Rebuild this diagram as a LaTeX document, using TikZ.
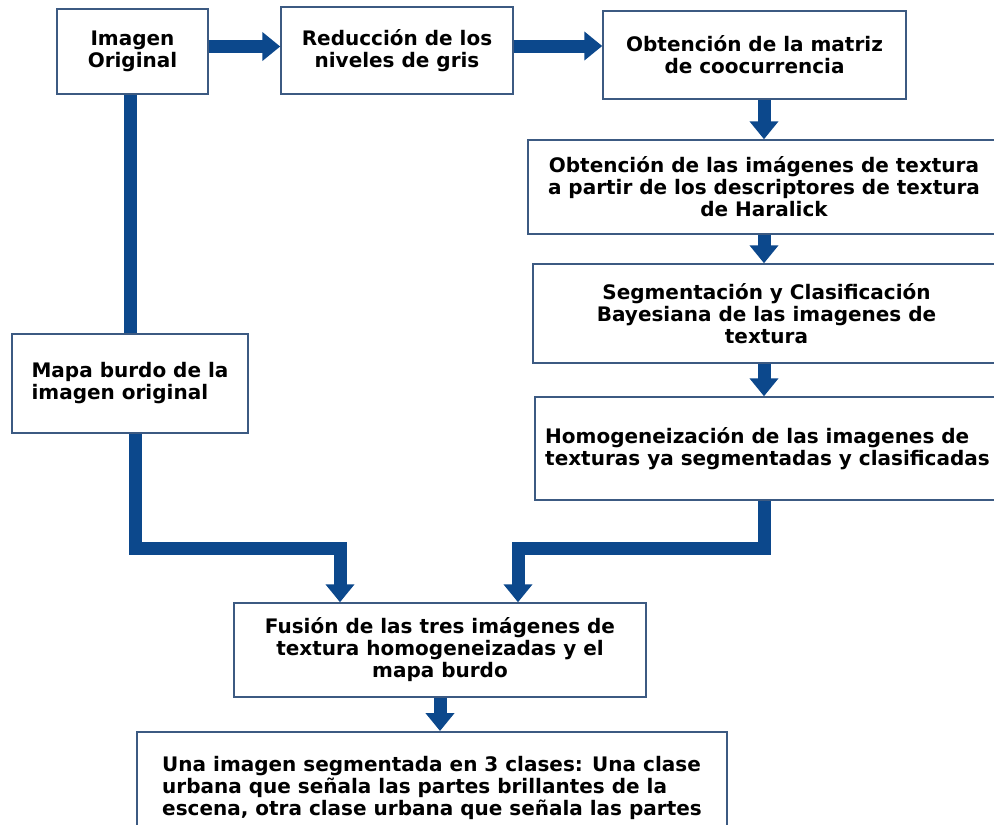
\documentclass[tikz,border=0pt]{standalone}
\usepackage{fontspec}
\setmainfont{DejaVu Sans}
\usetikzlibrary{arrows.meta}

\definecolor{flowblue}{RGB}{12,72,140}
\definecolor{boxline}{RGB}{60,90,130}

\begin{document}
\begin{tikzpicture}[x=1pt, y=-1pt,
    box/.style={draw=boxline, line width=1.5pt, align=center, inner sep=0pt,
        font=\fontsize{20}{22}\selectfont\bfseries},
    flow/.style={->, flowblue, line width=13pt, line join=miter,
        >={Triangle[width=28pt,length=18pt]}},
    bar/.style={flowblue, line width=13pt}]
                \useasboundingbox (0, 0) rectangle (994, 825);
                \fill[white] (0, 0) rectangle (994, 825);
                \clip (0, 0) rectangle (994, 825);

                % --------
                % Top row
                % --------
                \node[box, minimum width=151pt, minimum height=85pt] at (132.5, 51.5) (orig) {Imagen\\Original};
                \node[box, minimum width=232pt, minimum height=87pt] at (397, 50.5) (reduc) {Reducción de los\\niveles de gris};
                \node[box, minimum width=303pt, minimum height=88pt] at (754.5, 55) (matriz) {Obtención de la matriz\\de coocurrencia};

                % --------
                % Right column
                % --------
                \node[box, minimum width=472pt, minimum height=94pt] at (764, 187) (haralick) {Obtención de las imágenes de textura\\a partir de los descriptores de textura\\de Haralick};
                \node[box, minimum width=467pt, minimum height=99pt] at (766.5, 313.5) (bayes) {Segmentación y Clasificación\\Bayesiana de las imagenes de\\textura};
                \node[box, align=left, minimum width=465pt, minimum height=103pt] at (767.5, 448.5) (homog) {Homogeneización de las imagenes de\\texturas ya segmentadas y clasificadas};

                % --------
                % Left column
                % --------
                \node[box, align=left, minimum width=236pt, minimum height=99pt] at (130, 383.5) (mapa) {Mapa burdo de la\\imagen original};

                % --------
                % Bottom
                % --------
                \node[box, minimum width=412pt, minimum height=94pt] at (440, 650) (fusion) {Fusión de las tres imágenes de\\textura homogeneizadas y el\\mapa burdo};
                \node[box, align=left, anchor=north, minimum width=590pt, inner ysep=25pt, text depth=100pt] at (432, 731) (result) {Una imagen segmentada en 3 clases: Una clase\\urbana que señala las partes brillantes de la\\escena, otra clase urbana que señala las partes};

                \coordinate (elbowL) at (340, 548);
                \coordinate (elbowR) at (518, 548);

                % Draw line
                \draw[flow] ([yshift=5pt]orig.east) -- ([yshift=5pt]orig.east -| reduc.west);
                \draw[flow] ([yshift=4.5pt]reduc.east) -- ([yshift=4.5pt]reduc.east -| matriz.west);
                \draw[flow] (haralick.north |- matriz.south) -- (haralick.north);
                \draw[flow] (haralick.south) -- (haralick.south |- bayes.north);
                \draw[flow] (haralick.south |- bayes.south) -- (haralick.south |- homog.north);
                \draw[bar] (mapa.north |- orig.south) -- (mapa.north);
                \draw[flow] ([xshift=5pt]mapa.south) |- (elbowL) -- (elbowL |- fusion.north);
                \draw[flow] (haralick.south |- homog.south) |- (elbowR) -- (elbowR |- fusion.north);
                \draw[flow] (fusion.south) -- (fusion.south |- result.north);
\end{tikzpicture}
\end{document}
